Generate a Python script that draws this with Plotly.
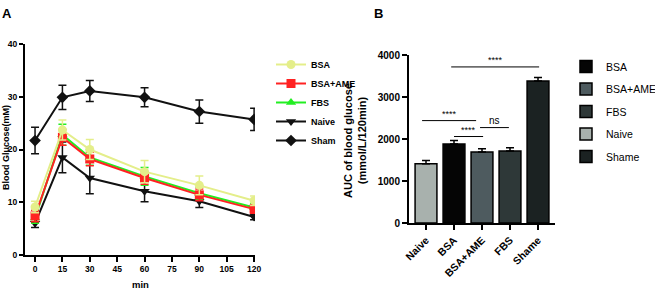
import plotly.graph_objects as go

# ---------- data ----------
time_min = [0, 15, 30, 60, 90, 120]
bsa = [9.1, 23.7, 20.0, 15.8, 13.2, 10.3]
bsa_err = [1.1, 1.9, 1.9, 2.1, 1.8, 0.9]
bsa_ame = [7.4, 22.3, 18.2, 14.6, 11.4, 8.7]
bsa_ame_err = [1.1, 1.5, 1.3, 1.2, 1.1, 0.8]
fbs = [7.0, 22.8, 18.5, 14.9, 11.7, 9.0]
fbs_err = [1.0, 2.0, 1.5, 1.7, 1.2, 0.8]
naive = [6.0, 18.5, 14.6, 12.1, 10.2, 7.2]
naive_err = [0.8, 2.9, 3.0, 2.0, 1.2, 0.5]
sham = [21.7, 29.9, 31.1, 29.9, 27.2, 25.7]
sham_err = [2.5, 2.3, 2.0, 1.8, 2.2, 2.1]
x_ticks = [0, 15, 30, 45, 60, 75, 90, 105, 120]

auc_groups = ["Naive", "BSA", "BSA+AME", "FBS", "Shame"]
auc_values = [1410, 1880, 1690, 1715, 3380]
auc_err = [80, 85, 75, 75, 85]
auc_legend_order = ["BSA", "BSA+AME", "FBS", "Naive", "Shame"]

# significance brackets: (x_start, x_end, y, label)
sig_lines = [(0.9, 4.04, 3716, "****"),
             (-0.14, 1.79, 2438, "****"),
             (1.0, 2.04, 2059, "****"),
             (1.93, 2.96, 2272, "ns")]

FONT = "Liberation Sans, Arial, sans-serif"
W, H = 655, 289

def px(x):
    return x / W

def py(y):
    return 1 - y / H

fig = go.Figure()

# ---------- panel A ----------
line_series = [
    ("Naive", naive, naive_err, "#111111", "triangle-down", 4),
    ("Sham", sham, sham_err, "#111111", "diamond", 5),
    ("FBS", fbs, fbs_err, "#22ee22", "triangle-up", 3),
    ("BSA+AME", bsa_ame, bsa_ame_err, "#ff2222", "square", 2),
    ("BSA", bsa, bsa_err, "#e4ee8a", "circle", 1),
]
for name, vals, err, col, sym, rank in line_series:
    fig.add_trace(go.Scatter(
        x=time_min, y=vals, name=name, mode="lines+markers",
        line=dict(color=col, width=2),
        marker=dict(symbol=sym, size=9, color=col),
        error_y=dict(type="data", array=err, color=col, thickness=1.5, width=4),
        xaxis="x", yaxis="y", legend="legend", legendrank=rank,
    ))

# ---------- panel B ----------
bar_colors = {"Naive": "#a8b1ad", "BSA": "#050505", "BSA+AME": "#4e5b5f",
              "FBS": "#2e3838", "Shame": "#1b2222"}
for g in auc_legend_order:
    i = auc_groups.index(g)
    fig.add_trace(go.Bar(
        x=[g], y=[auc_values[i]], name=g, width=0.78,
        marker=dict(color=bar_colors[g], line=dict(color="black", width=1.5)),
        error_y=dict(type="data", symmetric=False, array=[auc_err[i]], arrayminus=[0],
                     color="black", thickness=1.5, width=4),
        xaxis="x2", yaxis="y2", legend="legend2", legendgroup=g,
    ))

shapes = []
annotations = []
for x0, x1, y, lab in sig_lines:
    shapes.append(dict(type="line", xref="x2", yref="y2", x0=x0, x1=x1, y0=y, y1=y,
                       line=dict(color="black", width=1)))
    annotations.append(dict(x=(x0 + x1) / 2, y=y, xref="x2", yref="y2", text=lab,
                            showarrow=False, yanchor="bottom", yshift=0,
                            font=dict(family=FONT, size=10 if lab == "ns" else 9,
                                      color="black")))

annotations.append(dict(x=px(7), y=py(14), xref="paper", yref="paper", text="<b>A</b>",
                        showarrow=False, xanchor="center", yanchor="middle",
                        font=dict(family=FONT, size=13, color="black")))
annotations.append(dict(x=px(378), y=py(14), xref="paper", yref="paper", text="<b>B</b>",
                        showarrow=False, xanchor="center", yanchor="middle",
                        font=dict(family=FONT, size=13, color="black")))
# axis titles
annotations.append(dict(x=px(6), y=py(148), xref="paper", yref="paper",
                        text="<b>Blood Glucose(mM)</b>", textangle=-90, showarrow=False,
                        xanchor="center", yanchor="middle",
                        font=dict(family=FONT, size=9, color="black")))
annotations.append(dict(x=px(355), y=py(141), xref="paper", yref="paper",
                        text="<b>AUC of blood glucose<br>(mmol/L/120min)</b>", textangle=-90,
                        showarrow=False, xanchor="center", yanchor="middle",
                        font=dict(family=FONT, size=11, color="black")))
annotations.append(dict(x=px(140), y=py(284), xref="paper", yref="paper",
                        text="<b>min</b>", showarrow=False,
                        xanchor="center", yanchor="middle",
                        font=dict(family=FONT, size=9.5, color="black")))

axis_common = dict(showline=True, linecolor="black", linewidth=2, ticks="outside",
                   tickcolor="black", tickwidth=2, showgrid=False, zeroline=False,
                   automargin=False)

fig.update_layout(
    width=W, height=H, margin=dict(l=0, r=0, t=0, b=0, autoexpand=False),
    paper_bgcolor="white", plot_bgcolor="white",
    barmode="overlay",
    font=dict(family=FONT, color="black"),
    xaxis=dict(domain=[px(25), px(255)], range=[-5.5, 120.5], tickvals=x_ticks,
               ticklen=5, anchor="y",
               tickfont=dict(size=8.5, family=FONT, weight="bold"),
               **axis_common),
    yaxis=dict(domain=[py(255), py(44)], range=[0, 40], tickvals=[0, 10, 20, 30, 40],
               ticklen=4, anchor="x",
               tickfont=dict(size=8.5, family=FONT, weight="bold"),
               **axis_common),
    xaxis2=dict(domain=[px(409), px(555)], range=[-0.607, 4.607], type="category",
                categoryorder="array", categoryarray=auc_groups,
                ticklen=5, anchor="y2", tickangle=-45,
                tickfont=dict(size=10.5, family=FONT, weight="bold"),
                **axis_common),
    yaxis2=dict(domain=[py(223), py(55)], range=[0, 4000], tickvals=[0, 1000, 2000, 3000, 4000],
                ticklen=5, anchor="x2",
                tickfont=dict(size=10, family=FONT, weight="bold"),
                **axis_common),
    legend=dict(x=px(271), y=py(50), xanchor="left", yanchor="top",
                font=dict(size=9, family=FONT, weight="bold"),
                bgcolor="rgba(0,0,0,0)", traceorder="normal", itemwidth=30),
    legend2=dict(x=px(566), y=py(52), xanchor="left", yanchor="top",
                 font=dict(size=10.5, family=FONT),
                 bgcolor="rgba(0,0,0,0)", traceorder="grouped", tracegroupgap=3.5),
    shapes=shapes, annotations=annotations,
)

fig.write_html("out.html", post_script="document.body.style.margin='0';",
               config={"displayModeBar": False})
